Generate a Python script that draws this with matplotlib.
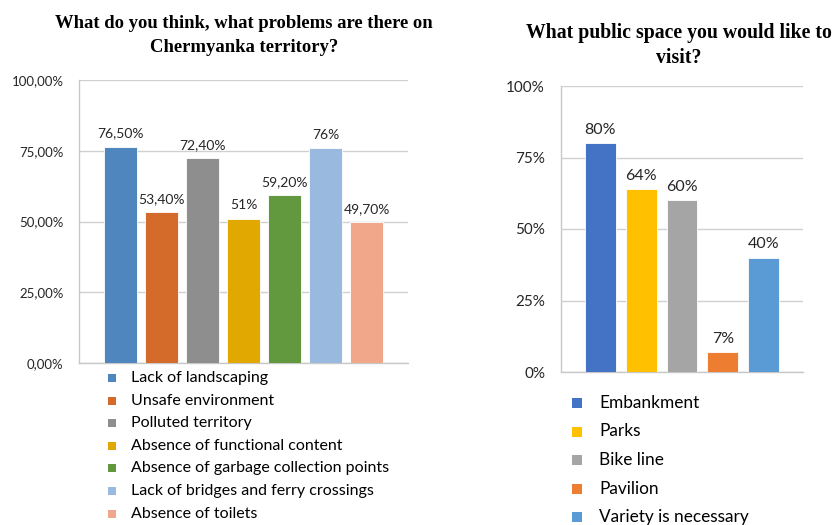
import matplotlib
matplotlib.use("Agg")
import matplotlib.pyplot as plt
from matplotlib.patches import Rectangle

# left chart: problems on the territory
problems = ["Lack of landscaping", "Unsafe environment", "Polluted territory",
            "Absence of functional content", "Absence of garbage collection points",
            "Lack of bridges and ferry crossings", "Absence of toilets"]
problem_vals = [76.5, 53.4, 72.4, 51.0, 59.2, 76.0, 49.7]
problem_labels = ["76,50%", "53,40%", "72,40%", "51%", "59,20%", "76%", "49,70%"]
problem_colors = ["#4F86BE", "#D46B2A", "#8E8E8E", "#E0A800", "#62993E", "#99B9DF", "#F0A78A"]
left_ticks = [0, 25, 50, 75, 100]
left_ticklabels = ["0,00%", "25,00%", "50,00%", "75,00%", "100,00%"]

# right chart: desired public space
spaces = ["Embankment", "Parks", "Bike line", "Pavilion", "Variety is necessary"]
space_vals = [80, 64, 60, 7, 40]
space_labels = ["80%", "64%", "60%", "7%", "40%"]
space_colors = ["#4472C4", "#FFC000", "#A5A5A5", "#ED7D31", "#5B9BD5"]
right_ticks = [0, 25, 50, 75, 100]
right_ticklabels = ["0%", "25%", "50%", "75%", "100%"]

W, H = 835, 525
FONT = "Lato"
TXT = "#262626"
SERIF = "Liberation Serif"


def fx(px):
    return px / W


def fy(py):
    return (H - py) / H


def make_axes(fig, left, right, top, bottom):
    return fig.add_axes([fx(left), fy(bottom), fx(right - left), (bottom - top) / H])


def bar_chart(ax, vals, labels, colors, width, margin, ticks, ticklabels,
              tick_size, label_size, pad):
    n = len(vals)
    xs = list(range(n))
    ax.bar(xs, vals, width=width, color=colors, edgecolor="white", linewidth=0.6, zorder=3)
    for x, v, lab in zip(xs, vals, labels):
        ax.annotate(lab, (x, v), xytext=(0, 9.5), textcoords="offset points",
                    ha="center", va="center", fontsize=label_size, color=TXT, family=FONT)
    ax.set_xlim(-width / 2 - margin, n - 1 + width / 2 + margin)
    ax.set_ylim(0, 100)
    ax.set_yticks(ticks)
    ax.set_yticklabels(ticklabels, fontsize=tick_size, color=TXT, family=FONT)
    ax.set_xticks([])
    ax.tick_params(axis="y", length=0, pad=pad)
    ax.grid(axis="y", color="#D0D0D0", linewidth=1, zorder=0)
    for s in ["top", "right"]:
        ax.spines[s].set_visible(False)
    for s in ["left", "bottom"]:
        ax.spines[s].set_color("#C8C8C8")
        ax.spines[s].set_linewidth(1)


def legend(fig, names, colors, x_box, x_text, y0, step, box, size):
    for i, (name, col) in enumerate(zip(names, colors)):
        yc = y0 + i * step
        fig.add_artist(Rectangle((fx(x_box), fy(yc + box / 2)), box / W, box / H,
                                 transform=fig.transFigure, facecolor=col, edgecolor="none"))
        fig.text(fx(x_text), fy(yc), name, ha="left", va="center",
                 fontsize=size, color="black", family=FONT)


fig = plt.figure(figsize=(W / 100, H / 100), dpi=100)

ax1 = make_axes(fig, 79, 408, 80, 363)
bar_chart(ax1, problem_vals, problem_labels, problem_colors, 33 / 41, 25 / 41,
          left_ticks, left_ticklabels, 9.5, 10, 11)
fig.text(fx(244), fy(23), "What do you think, what problems are there on",
         ha="center", va="center", fontsize=13.4, fontweight="bold", family=SERIF)
fig.text(fx(244), fy(48), "Chermyanka territory?",
         ha="center", va="center", fontsize=13.4, fontweight="bold", family=SERIF)
legend(fig, problems, problem_colors, 108, 131, 378, 22.6, 8, 11.5)

ax2 = make_axes(fig, 561, 803, 86, 372)
bar_chart(ax2, space_vals, space_labels, space_colors, 31 / 41, 24 / 41,
          right_ticks, right_ticklabels, 11, 11.5, 11.5)
fig.text(fx(679), fy(33), "What public space you would like to",
         ha="center", va="center", fontsize=14.2, fontweight="bold", family=SERIF)
fig.text(fx(679), fy(58), "visit?",
         ha="center", va="center", fontsize=14.2, fontweight="bold", family=SERIF)
legend(fig, spaces, space_colors, 572, 599, 403, 28.5, 10, 12.4)

fig.savefig("out.png", dpi=100)
